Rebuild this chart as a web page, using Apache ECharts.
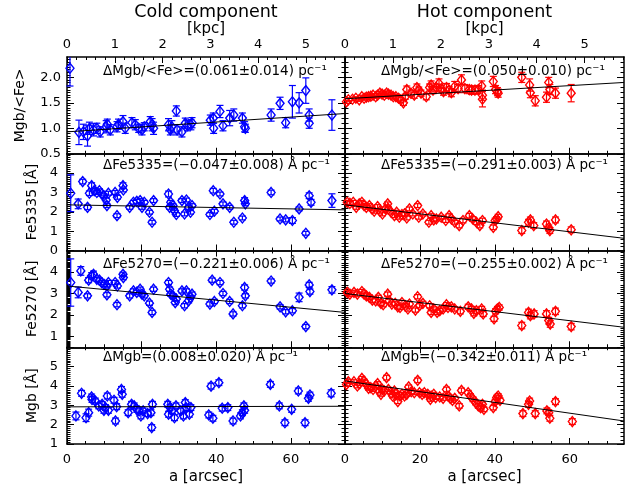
<!DOCTYPE html>
<html><head><meta charset="utf-8">
<script src="https://cdn.jsdelivr.net/npm/echarts@6/dist/echarts.min.js"></script>
<style>html,body{margin:0;padding:0;background:#fff}#c{width:629px;height:490px}</style>
</head><body><div id="c"></div>
<script>
// ---------- DATA: [radius (arcsec), value, error] ----------
const coldMgbFe = [[0.8,2.18,0.35],[3.2,0.92,0.24],[4.4,0.93,0.15],[5.5,0.85,0.2],[6.0,1.0,0.12],[7.1,0.97,0.12],[8.0,1.0,0.1],[8.9,0.93,0.1],[10.5,1.03,0.12],[10.8,1.08,0.1],[11.6,0.97,0.1],[13.4,1.03,0.1],[13.8,1.08,0.1],[15.0,1.13,0.12],[15.6,1.0,0.1],[17.4,1.11,0.1],[18.3,1.07,0.1],[19.2,1.0,0.08],[20.1,0.97,0.1],[20.7,1.03,0.08],[22.3,1.13,0.1],[22.8,1.07,0.12],[23.2,1.0,0.12],[27.2,1.07,0.12],[27.7,0.97,0.1],[28.1,1.03,0.12],[29.3,1.34,0.1],[29.5,0.97,0.1],[30.8,0.93,0.1],[31.7,1.1,0.1],[32.3,1.05,0.1],[33.2,1.07,0.1],[33.5,1.11,0.1],[38.4,1.16,0.1],[39.2,1.2,0.1],[39.3,1.0,0.1],[41.0,1.33,0.12],[41.8,1.05,0.1],[43.6,1.2,0.15],[44.7,1.26,0.12],[47.0,1.2,0.1],[47.6,1.03,0.1],[47.8,1.0,0.08],[54.7,1.26,0.12],[57.1,1.49,0.12],[58.6,1.11,0.1],[60.4,1.52,0.32],[62.2,1.5,0.2],[64.0,1.74,0.25],[64.9,1.26,0.12],[64.9,1.1,0.1],[71.0,1.26,0.3]];
const coldFe5335 = [[1.0,2.96,0.95],[3.0,2.41,0.25],[4.2,3.56,0.12],[5.5,2.23,0.12],[6.0,2.96,0.12],[6.6,3.35,0.15],[7.3,3.09,0.12],[8.0,3.0,0.1],[8.7,3.09,0.1],[9.3,2.92,0.1],[9.9,2.83,0.1],[10.5,2.61,0.1],[10.7,2.32,0.1],[11.1,2.96,0.1],[12.9,3.0,0.1],[13.4,1.8,0.1],[13.5,2.75,0.1],[15.0,3.35,0.15],[15.1,3.13,0.1],[16.8,2.23,0.1],[17.8,2.49,0.1],[18.7,2.54,0.1],[19.6,2.58,0.1],[20.1,2.23,0.1],[20.7,2.49,0.1],[22.1,1.98,0.1],[22.8,1.46,0.1],[23.2,2.58,0.1],[27.2,2.92,0.15],[27.5,2.23,0.1],[27.8,2.49,0.1],[28.4,2.32,0.1],[28.8,2.06,0.1],[29.3,1.86,0.1],[30.8,2.58,0.1],[31.5,1.89,0.1],[32.0,2.61,0.1],[32.6,2.23,0.1],[33.1,1.98,0.1],[33.5,2.32,0.1],[38.3,1.86,0.1],[39.2,3.09,0.12],[39.5,2.03,0.1],[41.0,2.92,0.1],[41.8,2.41,0.1],[43.6,2.23,0.1],[44.7,1.46,0.1],[47.0,1.68,0.1],[47.6,2.58,0.15],[47.8,2.41,0.1],[54.7,3.0,0.12],[57.1,1.63,0.1],[58.6,1.58,0.1],[60.4,1.55,0.15],[62.2,2.15,0.1],[64.0,0.89,0.1],[64.9,2.83,0.15],[65.4,2.49,0.15],[71.0,2.58,0.35]];
const coldFe5270 = [[1.0,3.51,1.1],[3.0,3.05,0.25],[3.7,4.05,0.2],[5.5,2.89,0.1],[5.8,3.62,0.12],[6.6,3.82,0.15],[7.1,3.89,0.15],[8.0,3.66,0.1],[8.7,3.62,0.1],[9.3,3.51,0.1],[9.9,3.43,0.1],[10.7,3.35,0.1],[10.7,2.94,0.1],[11.1,3.51,0.1],[12.9,3.51,0.1],[13.4,2.48,0.1],[13.5,3.35,0.1],[15.0,3.89,0.1],[15.1,3.74,0.1],[16.8,2.89,0.1],[17.8,3.12,0.1],[18.7,3.05,0.1],[19.6,3.2,0.1],[20.1,2.97,0.1],[20.7,2.89,0.1],[22.1,2.55,0.1],[22.8,2.12,0.1],[23.2,3.2,0.1],[27.2,3.51,0.1],[27.5,3.2,0.1],[27.8,2.97,0.1],[28.4,2.89,0.1],[29.0,2.58,0.1],[29.3,2.74,0.1],[30.8,3.12,0.1],[31.5,2.43,0.1],[32.0,3.12,0.1],[32.6,2.66,0.1],[33.1,2.82,0.1],[33.5,2.97,0.1],[38.3,2.51,0.1],[38.9,3.62,0.1],[39.5,2.63,0.1],[41.0,3.51,0.1],[41.8,3.0,0.1],[43.6,2.63,0.1],[44.5,2.05,0.1],[47.0,2.43,0.1],[47.6,3.28,0.12],[47.8,2.89,0.1],[54.7,3.58,0.1],[57.1,2.38,0.1],[58.6,2.15,0.1],[60.4,2.2,0.1],[62.2,2.82,0.2],[64.0,1.46,0.1],[64.9,3.4,0.12],[65.1,3.09,0.12],[71.0,3.17,0.15]];
const coldMgb = [[2.4,2.45,0.2],[3.9,3.62,0.15],[5.1,2.36,0.2],[5.8,2.62,0.18],[6.6,3.43,0.15],[6.7,3.3,0.15],[7.6,3.22,0.15],[8.5,2.97,0.15],[9.4,3.05,0.15],[9.9,2.74,0.15],[10.3,2.88,0.15],[10.8,3.48,0.15],[11.1,2.74,0.15],[12.6,3.26,0.15],[13.0,2.19,0.15],[13.3,2.93,0.15],[14.6,3.82,0.15],[14.8,3.57,0.15],[16.4,2.62,0.15],[17.3,3.05,0.15],[18.0,2.97,0.15],[18.7,2.79,0.15],[19.3,2.71,0.15],[19.8,2.45,0.15],[20.4,2.71,0.15],[21.6,2.57,0.15],[22.5,2.62,0.15],[22.7,1.85,0.15],[22.9,3.05,0.15],[27.0,3.05,0.15],[27.2,2.54,0.15],[27.6,2.88,0.15],[28.1,2.71,0.15],[28.8,2.36,0.15],[29.2,2.97,0.15],[30.5,2.71,0.15],[31.2,2.45,0.15],[31.7,3.14,0.15],[31.9,2.88,0.15],[32.8,2.54,0.15],[33.2,2.88,0.15],[38.0,2.5,0.15],[38.6,3.99,0.15],[39.1,2.33,0.15],[40.7,4.17,0.15],[41.6,2.85,0.15],[43.1,2.88,0.15],[44.5,2.19,0.15],[46.5,2.45,0.15],[47.0,2.62,0.15],[47.4,2.97,0.15],[47.6,2.74,0.15],[54.5,4.08,0.15],[56.9,2.97,0.15],[58.4,2.1,0.15],[60.2,2.79,0.15],[62.0,3.74,0.15],[63.8,2.1,0.15],[64.7,3.36,0.15],[65.1,3.53,0.15],[70.8,3.62,0.18]];

const hotMgbFe = [[0.4,1.52,0.03],[0.9,1.56,0.03],[2.0,1.57,0.03],[2.9,1.59,0.03],[3.8,1.56,0.03],[4.5,1.62,0.03],[5.1,1.59,0.03],[5.7,1.61,0.03],[6.3,1.62,0.03],[6.9,1.63,0.03],[7.5,1.65,0.03],[8.2,1.62,0.03],[8.7,1.65,0.04],[9.3,1.69,0.04],[9.9,1.67,0.04],[10.5,1.65,0.04],[11.1,1.69,0.04],[11.6,1.67,0.04],[12.3,1.65,0.04],[12.9,1.62,0.04],[13.6,1.62,0.05],[14.3,1.59,0.05],[14.9,1.56,0.05],[15.6,1.5,0.05],[16.1,1.62,0.05],[16.5,1.76,0.07],[17.6,1.69,0.06],[18.5,1.65,0.06],[19.2,1.8,0.07],[19.7,1.75,0.06],[20.3,1.69,0.06],[21.7,1.62,0.06],[22.6,1.8,0.07],[23.0,1.85,0.08],[23.5,1.75,0.07],[24.4,1.8,0.07],[25.1,1.88,0.09],[25.7,1.78,0.07],[26.3,1.72,0.07],[27.1,1.8,0.08],[27.8,1.75,0.07],[28.4,1.7,0.08],[29.3,1.82,0.1],[30.2,1.78,0.08],[31.1,1.95,0.1],[32.0,1.78,0.08],[33.2,1.76,0.08],[33.8,1.75,0.08],[34.7,1.75,0.08],[35.6,1.76,0.08],[36.5,1.83,0.1],[36.7,1.57,0.15],[36.7,1.65,0.1],[39.6,1.92,0.1],[40.2,1.76,0.08],[40.7,1.72,0.08],[40.9,1.69,0.08],[47.2,2.0,0.1],[49.3,1.85,0.12],[49.5,1.7,0.1],[50.8,1.54,0.1],[53.8,1.61,0.1],[54.4,1.9,0.1],[54.7,1.76,0.1],[56.2,1.69,0.1],[60.4,1.69,0.17]];
const hotFe5335 = [[0.6,2.49,0.1],[1.3,2.44,0.1],[2.2,2.49,0.1],[3.0,2.23,0.1],[3.8,2.41,0.1],[4.5,2.49,0.1],[5.1,2.32,0.1],[5.7,2.23,0.1],[6.5,2.32,0.1],[7.2,2.15,0.1],[7.8,2.03,0.1],[8.7,2.27,0.1],[9.3,2.03,0.1],[10.0,1.89,0.1],[10.8,2.15,0.1],[11.4,2.41,0.1],[11.6,2.15,0.1],[12.3,1.98,0.1],[13.2,1.8,0.1],[13.8,1.98,0.1],[14.5,1.72,0.1],[15.2,1.86,0.1],[15.9,1.89,0.1],[16.5,1.68,0.1],[17.2,2.15,0.1],[18.1,1.89,0.1],[19.4,2.32,0.1],[19.7,1.72,0.1],[20.8,1.89,0.1],[22.4,1.46,0.1],[23.0,1.8,0.1],[23.7,1.58,0.1],[24.4,1.63,0.1],[25.7,1.72,0.1],[26.9,1.55,0.1],[27.8,1.8,0.1],[28.4,1.63,0.1],[29.3,1.46,0.1],[30.5,1.29,0.12],[31.5,1.55,0.12],[33.2,1.8,0.12],[34.1,1.63,0.12],[35.1,1.46,0.12],[36.0,1.29,0.12],[36.7,1.55,0.12],[39.6,1.2,0.12],[40.1,1.55,0.12],[40.5,1.63,0.12],[40.9,1.75,0.12],[47.2,1.03,0.15],[49.0,1.46,0.15],[49.5,1.58,0.15],[50.4,1.29,0.15],[53.8,1.37,0.15],[54.4,1.17,0.15],[54.7,1.03,0.15],[56.2,1.58,0.15],[60.4,1.07,0.15]];
const hotFe5270 = [[0.6,3.05,0.1],[1.3,2.97,0.1],[2.4,3.05,0.1],[3.3,2.97,0.1],[4.5,3.09,0.1],[5.1,2.97,0.1],[5.7,2.89,0.1],[6.5,2.82,0.1],[7.3,2.69,0.1],[8.2,2.66,0.1],[8.9,2.82,0.1],[9.6,2.54,0.1],[10.2,2.48,0.1],[11.4,2.97,0.1],[11.8,2.66,0.1],[12.5,2.51,0.1],[13.4,2.54,0.1],[14.1,2.38,0.1],[14.7,2.35,0.1],[15.2,2.58,0.1],[16.1,2.43,0.1],[16.8,2.28,0.1],[17.2,2.51,0.1],[18.8,2.23,0.1],[19.4,2.85,0.1],[19.9,2.43,0.1],[20.8,2.54,0.1],[22.6,2.43,0.1],[23.0,2.12,0.1],[23.7,2.28,0.1],[24.6,2.12,0.1],[25.3,2.2,0.1],[26.2,2.28,0.1],[27.1,2.48,0.1],[27.5,2.35,0.1],[28.4,2.38,0.1],[29.3,2.28,0.1],[30.8,2.17,0.12],[32.9,2.38,0.12],[33.8,2.28,0.12],[34.4,2.08,0.12],[35.1,2.2,0.12],[36.5,2.28,0.12],[36.9,2.05,0.12],[39.8,1.82,0.12],[40.2,2.17,0.12],[40.7,2.28,0.12],[41.2,2.35,0.12],[47.2,1.51,0.15],[49.0,2.12,0.15],[49.5,1.97,0.15],[50.5,2.05,0.15],[53.8,2.05,0.15],[54.4,1.74,0.15],[54.8,1.58,0.15],[56.2,2.17,0.15],[60.4,1.46,0.15]];
const hotMgb = [[0.4,4.08,0.1],[0.9,4.22,0.1],[2.4,4.22,0.1],[3.3,4.0,0.1],[3.9,4.12,0.1],[4.5,4.39,0.1],[5.1,4.25,0.1],[5.7,4.08,0.1],[6.3,3.88,0.1],[6.9,3.91,0.1],[7.5,3.82,0.1],[8.2,4.0,0.1],[8.7,4.12,0.1],[9.1,3.74,0.1],[9.6,3.57,0.1],[10.0,3.82,0.1],[10.5,3.74,0.1],[11.1,4.43,0.12],[11.6,3.82,0.1],[12.3,3.65,0.1],[12.7,3.48,0.1],[13.2,3.74,0.1],[13.6,3.57,0.1],[14.1,3.19,0.1],[14.7,3.48,0.1],[15.2,3.57,0.1],[15.9,3.48,0.1],[16.5,3.57,0.1],[17.0,3.95,0.1],[17.7,3.7,0.1],[18.5,3.65,0.1],[19.4,4.29,0.12],[19.9,3.65,0.1],[20.6,3.57,0.1],[21.2,3.65,0.1],[22.1,3.57,0.1],[22.8,3.31,0.1],[23.0,3.48,0.1],[23.7,3.57,0.1],[24.2,3.4,0.1],[25.3,3.43,0.1],[26.2,3.36,0.1],[27.1,3.82,0.12],[27.5,3.48,0.1],[28.1,3.36,0.1],[28.7,3.26,0.1],[29.3,3.36,0.1],[30.5,2.97,0.12],[31.1,3.77,0.12],[32.9,3.65,0.12],[33.5,3.48,0.12],[34.2,3.31,0.12],[34.9,3.14,0.12],[35.6,2.97,0.12],[36.2,2.88,0.12],[36.7,3.05,0.12],[37.1,2.79,0.12],[39.6,2.88,0.12],[40.1,3.19,0.12],[40.5,3.4,0.12],[40.9,3.48,0.12],[41.4,3.26,0.12],[47.5,2.57,0.15],[49.0,3.05,0.15],[49.3,3.22,0.15],[50.8,2.57,0.15],[53.9,2.71,0.15],[54.4,2.62,0.15],[54.7,2.33,0.15],[56.2,3.19,0.15],[60.7,2.16,0.15]];

// fitted gradients: [radius, value] at both ends of the axis
const fitColdMgbFe = [[0,0.93],[74.5,1.29]];
const fitHotMgbFe  = [[0,1.58],[74.5,1.90]];
const fitColdFe5335 = [[0,2.36],[74.5,2.10]];
const fitHotFe5335  = [[0,2.36],[74.5,0.63]];
const fitColdFe5270 = [[0,3.35],[74.5,2.12]];
const fitHotFe5270  = [[0,3.00],[74.5,1.43]];
const fitColdMgb = [[0,2.92],[74.5,2.95]];
const fitHotMgb  = [[0,4.26],[74.5,2.19]];

const arcsecTicks = [0,20,40,60];
const kpcTicks = [0,1,2,3,4,5];
const mgbFeTicks = [0.5,1.0,1.5,2.0];
const fe5335Ticks = [0,1,2,3,4];
const fe5270Ticks = [1,2,3,4];
const mgbTicks = [1,2,3,4,5];
const X_MAX = 74.5;
const ARCSEC_PER_KPC = 12.8;

const columnTitles = ['Cold component','Hot component'];
const rowTitles = ['Mgb/<Fe>','Fe5335 [Å]','Fe5270 [Å]','Mgb [Å]'];
const annotations = [
  ['ΔMgb/<Fe>=(0.061±0.014) pc⁻¹','ΔMgb/<Fe>=(0.050±0.010) pc⁻¹'],
  ['ΔFe5335=(−0.047±0.008) Å pc⁻¹','ΔFe5335=(−0.291±0.003) Å pc⁻¹'],
  ['ΔFe5270=(−0.221±0.006) Å pc⁻¹','ΔFe5270=(−0.255±0.002) Å pc⁻¹'],
  ['ΔMgb=(0.008±0.020) Å pc⁻¹','ΔMgb=(−0.342±0.011) Å pc⁻¹']
];

// ---------- LAYOUT ----------
const FONT = 'DejaVu Sans';
const BLUE = '#0000ff', RED = '#ff0000';
const colX = [67, 345], colW = [278, 279];
const rowY = [57, 153.75, 250.5, 347.25], rowH = 96.75;
const yCfg = [
  {min:0.5, max:2.4, interval:0.5, ticks:mgbFeTicks, labels:mgbFeTicks, dec:1, gap:40, lm:6},
  {min:0, max:5, interval:1, ticks:[0,1,2,3,4,5], labels:fe5335Ticks, dec:0, gap:28, lm:9},
  {min:0.5, max:5, interval:0.5, ticks:[1,2,3,4,5], labels:fe5270Ticks, dec:0, gap:28, lm:9},
  {min:1, max:6, interval:1, ticks:[1,2,3,4,5,6], labels:mgbTicks, dec:0, gap:28, lm:9}
];
const panels = [
  [[coldMgbFe, fitColdMgbFe],[hotMgbFe, fitHotMgbFe]],
  [[coldFe5335, fitColdFe5335],[hotFe5335, fitHotFe5335]],
  [[coldFe5270, fitColdFe5270],[hotFe5270, fitHotFe5270]],
  [[coldMgb, fitColdMgb],[hotMgb, fitHotMgb]]
];
const annoY = [72, 166, 265, 358];

const grids=[], xAxes=[], yAxes=[], series=[], graphic=[];
const black = {color:'#000'};
function errRender(color){
  return function(params, api){
    const x = api.value(0), y = api.value(1), e = api.value(2);
    const cs = params.coordSys;
    const t = api.coord([x, y+e]), b = api.coord([x, y-e]);
    const yTop = cs.y, yBot = cs.y + cs.height;
    const y1 = Math.max(yTop, Math.min(yBot, t[1]));
    const y2 = Math.max(yTop, Math.min(yBot, b[1]));
    const w = 3.5, st = {stroke: color, lineWidth: 1.2, fill:null};
    const ch = [{type:'line', shape:{x1:t[0],y1:y1,x2:b[0],y2:y2}, style:st}];
    if (t[1] >= yTop && t[1] <= yBot) ch.push({type:'line', shape:{x1:t[0]-w,y1:t[1],x2:t[0]+w,y2:t[1]}, style:st});
    if (b[1] >= yTop && b[1] <= yBot) ch.push({type:'line', shape:{x1:b[0]-w,y1:b[1],x2:b[0]+w,y2:b[1]}, style:st});
    return {type:'group', children: ch};
  };
}

for (let r=0; r<4; r++) {
  for (let c=0; c<2; c++) {
    const g = grids.length;
    grids.push({left: colX[c], top: rowY[r], width: colW[c], height: rowH});
    const xb = xAxes.length;
    xAxes.push({gridIndex:g, type:'value', position:'bottom', min:0, max:X_MAX, interval:20,
      axisLine:{onZero:false, lineStyle:{color:'#000', width:1.5}},
      axisTick:{inside:true, length:6, customValues:arcsecTicks, lineStyle:black},
      minorTick:{show:true, splitNumber:4, length:3, lineStyle:black},
      axisLabel:{show:r===3, customValues:arcsecTicks, margin:9, fontSize:13, fontFamily:FONT, color:'#000'},
      splitLine:{show:false}, minorSplitLine:{show:false},
      name: r===3 ? 'a [arcsec]' : '', nameLocation:'middle', nameGap:26,
      nameTextStyle:{fontSize:15, fontFamily:FONT, color:'#000'}});
    if (r===0) {
      xAxes.push({gridIndex:g, type:'value', position:'top', min:0, max:X_MAX/ARCSEC_PER_KPC, interval:1,
        axisLine:{onZero:false, lineStyle:{color:'#000', width:1.5}},
        axisTick:{inside:true, length:6, customValues:kpcTicks, lineStyle:black},
        minorTick:{show:true, splitNumber:5, length:3, lineStyle:black},
        axisLabel:{show:true, customValues:kpcTicks, margin:6, fontSize:13, fontFamily:FONT, color:'#000'},
        splitLine:{show:false},
        name:'[kpc]', nameLocation:'middle', nameGap:17,
        nameTextStyle:{fontSize:15, fontFamily:FONT, color:'#000'}});
    } else {
      xAxes.push({gridIndex:g, type:'value', position:'top', min:0, max:X_MAX, interval:20,
        axisLine:{onZero:false, lineStyle:{color:'#000', width:1.5}},
        axisTick:{inside:true, length:6, customValues:arcsecTicks, lineStyle:black},
        minorTick:{show:true, splitNumber:4, length:3, lineStyle:black},
        axisLabel:{show:false}, splitLine:{show:false}});
    }
    const yc = yCfg[r];
    const yl = yAxes.length;
    yAxes.push({gridIndex:g, type:'value', position:'left', min:yc.min, max:yc.max, interval:yc.interval,
      axisLine:{onZero:false, lineStyle:{color:'#000', width:1.5}},
      axisTick:{inside:true, length:7, customValues:yc.ticks, lineStyle:black},
      minorTick:{show:true, splitNumber: c===0 ? 10 : 5, length:3.5, lineStyle:black},
      axisLabel:{show:c===0, customValues:yc.labels, margin:yc.lm, fontSize:13, fontFamily:FONT, color:'#000',
        formatter: v => Number(v).toFixed(yc.dec)},
      splitLine:{show:false},
      name: c===0 ? rowTitles[r] : '', nameLocation:'middle', nameGap:yc.gap,
      nameTextStyle:{fontSize:14, fontFamily:FONT, color:'#000'}});
    yAxes.push({gridIndex:g, type:'value', position:'right', min:yc.min, max:yc.max, interval:yc.interval,
      axisLine:{onZero:false, lineStyle:{color:'#000', width:1.5}},
      axisTick:{inside:true, length:7, customValues:yc.ticks, lineStyle:black},
      minorTick:{show:true, splitNumber:5, length:3.5, lineStyle:black},
      axisLabel:{show:false}, splitLine:{show:false}});

    const [pts, fit] = panels[r][c];
    const col = c===0 ? BLUE : RED;
    series.push({type:'custom', xAxisIndex:xb, yAxisIndex:yl, data:pts, renderItem:errRender(col),
      encode:{x:0, y:1}, silent:true, z:2});
    series.push({type:'scatter', xAxisIndex:xb, yAxisIndex:yl, data:pts.map(p=>[p[0],p[1]]),
      symbol:'diamond', symbolSize:[8,10], clip:true, silent:true, z:3,
      itemStyle:{color:'rgba(0,0,0,0)', borderColor:col, borderWidth:1.4, opacity:1}});
    series.push({type:'line', xAxisIndex:xb, yAxisIndex:yl, data:fit, showSymbol:false, clip:true,
      silent:true, z:4, lineStyle:{color:'#000', width:1}});

    graphic.push({type:'text', left: colX[c] + 36, top: annoY[r] - 8, silent:true, z:10,
      style:{text: annotations[r][c], fontSize:13.5, fontFamily:FONT, fill:'#000'}});
  }
}

graphic.push({type:'text', x: colX[0] + colW[0]/2, y: 12, silent:true,
  style:{text: columnTitles[0], fontSize:17.5, fontFamily:FONT, fill:'#000', textAlign:'center', textVerticalAlign:'middle'}});
graphic.push({type:'text', x: colX[1] + colW[1]/2, y: 12, silent:true,
  style:{text: columnTitles[1], fontSize:17.5, fontFamily:FONT, fill:'#000', textAlign:'center', textVerticalAlign:'middle'}});

const chart = echarts.init(document.getElementById('c'), null, {renderer:'canvas'});
chart.setOption({
  backgroundColor:'#fff', animation:false,
  grid: grids, xAxis: xAxes, yAxis: yAxes, series: series, graphic: graphic
});
</script>
</body></html>
